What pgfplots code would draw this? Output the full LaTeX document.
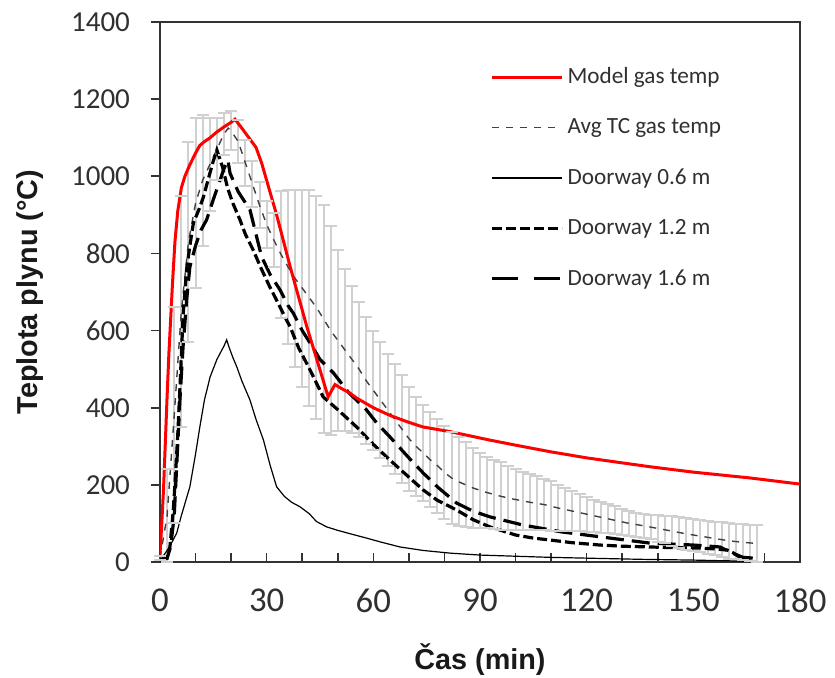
\documentclass[border=0pt]{standalone}
\usepackage{pgfplots}
\usepackage{pgfplotstable}
\pgfplotsset{compat=1.18}
\usepackage{fontspec}
\setmainfont{Carlito}
\newfontfamily\arialfont{Liberation Sans}
\definecolor{ebgray}{HTML}{D0D0D0}
\definecolor{txtgray}{HTML}{303030}

% average TC gas temperature with its error (+/-)
\pgfplotstableread{
t v e
0 10 5
2 120 120
4 380 280
6 650 300
8 830 260
10 930 220
12 990 170
14 1030 120
16 1070 80
18 1110 55
20 1118 50
22 1090 55
24 1035 60
26 980 60
28 925 60
30 875 60
32 835 70
34 798 165
36 765 200
38 735 230
40 710 255
42 685 280
44 660 290
46 630 295
48 600 270
50 575 235
52 550 210
54 525 190
56 500 175
58 470 165
60 445 155
62 420 150
64 395 145
66 370 143
68 345 140
70 320 135
72 300 128
74 283 125
76 265 123
78 250 122
80 232 121
82 218 120
84 208 115
86 200 110
88 192 103
90 186 97
92 180 92
94 175 90
96 170 88
98 166 84
100 162 80
102 158 76
104 155 72
106 152 70
108 149 67
110 145 65
112 140 60
114 136 56
116 132 52
118 128 48
120 124 45
122 120 42
124 116 40
126 112 38
128 108 36
130 104 34
132 100 32
134 97 31
136 94 31
138 91 32
140 87 34
142 84 36
144 80 38
146 77 40
148 73 41
150 70 42
152 67 42
154 64 43
156 61 44
158 58 45
160 55 46
162 53 46
164 51 47
166 49 47
168 48 47
}\tcdata

\begin{document}
\begin{tikzpicture}
\useasboundingbox (-80pt,-57.5pt) rectangle (337.5pt,281pt);
\begin{axis}[
  at={(0,0)}, anchor=south west,
  scale only axis, width=320pt, height=270pt,
  xmin=0, xmax=180, ymin=0, ymax=1400,
  xtick={0,30,...,180}, minor x tick num=2,
  ytick={0,200,...,1400},
  xtick pos=bottom, ytick pos=left,
  xtick align=inside, ytick align=outside,
  major tick length=4.5pt, minor tick length=4.5pt,
  axis line style={black!80, line width=0.8pt},
  every tick/.style={black!80, line width=0.8pt},
  /pgf/number format/assume math mode=true,
  /pgf/number format/1000 sep={},
  yticklabel style={font=\fontsize{14.5}{16}\selectfont, text=txtgray, xshift=-7pt},
  xticklabel style={font=\fontsize{17.4}{19}\selectfont, text=txtgray, yshift=-10pt},
  xlabel={\arialfont\bfseries \v{C}as (min)},
  ylabel={\arialfont\bfseries Teplota plynu (°C)},
  every axis x label/.style={at={(axis description cs:0.5,-0.1815)}, anchor=center, font=\fontsize{14.4}{16}\selectfont, text=black!90},
  every axis y label/.style={at={(axis description cs:-0.203,0.5)}, anchor=center, rotate=90, font=\fontsize{14.4}{16}\selectfont, text=black!90},
  legend image code/.code={\draw[#1] (0pt,0pt) -- (35pt,0pt);},
  legend cell align=left,
  legend style={draw=none, fill=none, at={(axis description cs:0.5156,0.924)}, anchor=north west,
    inner sep=0pt, row sep=12pt, font=\fontsize{11.6}{13}\selectfont, text=txtgray},
]
\addlegendimage{red, line width=1.5pt}
\addlegendentry{Model gas temp}
\addlegendimage{black!75, line width=0.7pt, dash pattern=on 3.5pt off 3.5pt}
\addlegendentry{Avg TC gas temp}
\addlegendimage{black, line width=0.6pt}
\addlegendentry{Doorway 0.6 m}
\addlegendimage{black, line width=1.6pt, dash pattern=on 5pt off 2pt}
\addlegendentry{Doorway 1.2 m}
\addlegendimage{black, line width=1.6pt, dash pattern=on 13pt off 8pt}
\addlegendentry{Doorway 1.6 m}

% error bars of average TC: vertical bars
\addplot[forget plot, draw=none, mark=none,
  error bars/.cd, y dir=both, y explicit,
  error bar style={draw=ebgray, line width=1pt}]
table[x=t, y=v, y error=e] {\tcdata};
% caps
\addplot[forget plot, only marks, mark=-, mark size=3pt, mark options={draw=ebgray, line width=1pt}]
table[x=t, y expr=\thisrow{v}+\thisrow{e}] {\tcdata};
\addplot[forget plot, only marks, mark=-, mark size=3pt, mark options={draw=ebgray, line width=1pt}]
table[x=t, y expr=\thisrow{v}-\thisrow{e}] {\tcdata};

% Doorway 0.6 m
\addplot[forget plot, black, line width=0.6pt] coordinates {
(0,5) (0.5,10) (2,30) (3,45) (4.7,75) (6,120) (8.4,195) (10,280) (11.2,350) (12.5,420)
(14.1,480) (16,525) (16.9,541) (18,560) (18.75,576) (19.5,555) (20.5,530) (21.6,506)
(23,470) (25.3,420) (27,370) (29.1,316) (31,250) (32.8,195) (35,170) (37,155) (39.4,143)
(42,125) (44,105) (46.9,91) (50,82) (54,72) (58.1,62) (62,52) (67.5,39) (74,30) (81.6,23)
(90,18) (100,15) (110,12) (120,10) (135,7) (150,5) (160,3) (165,2)
};

% Avg TC gas temp
\addplot[forget plot, black!75, line width=0.7pt, dash pattern=on 3.5pt off 3.5pt] coordinates {
(0,10) (2,120) (4,380) (6,650) (8,830) (10,930) (12,990) (14,1030) (16,1070) (18,1110)
(19.2,1125) (20,1118) (22,1090) (24,1035) (26,980) (28,925) (30,875) (32,835) (34,798)
(36,765) (38,735) (40,710) (42,685) (44,660) (46,630) (48,600) (50,575) (52,550) (54,525)
(56,500) (58,470) (60,445) (62,420) (64,395) (66,370) (68,345) (70,320) (72,300) (74,283)
(76,265) (78,250) (80,232) (82,218) (84,208) (86,200) (88,192) (90,186) (92,180) (96,170)
(100,162) (104,155) (108,149) (112,140) (116,132) (120,124) (124,116) (128,108) (132,100)
(136,94) (140,87) (144,80) (148,73) (152,67) (156,61) (160,55) (164,51) (168,48)
};

% Doorway 1.2 m
\addplot[forget plot, black, line width=1.6pt, dash pattern=on 5pt off 2pt] coordinates {
(0,5) (1,8) (2,10) (2.8,40) (3.7,130) (4.2,200) (5,330) (5.6,450) (6.5,640) (7.5,760)
(8.4,820) (9.4,879) (11,915) (12.2,946) (13.5,990) (15,1040) (16,1068) (17,1040)
(17.6,1024) (19,970) (20.5,930) (22.5,887) (24,850) (26.2,809) (28.5,760) (30.9,713)
(33,675) (35.6,627) (36.6,610) (39,555) (42.2,498) (45.9,428) (50,395) (55.3,350)
(60,305) (64.7,264) (70,220) (74,187) (78,160) (83.4,135) (88,110) (92.8,91) (100,70)
(105,62) (109.7,57) (116,50) (123.7,44) (130,41) (137.8,39) (145,37) (152,36) (156,34)
(159.5,31) (161,25) (163,13) (166.7,10)
};

% Doorway 1.6 m
\addplot[forget plot, black, line width=1.6pt, dash pattern=on 9pt off 4pt] coordinates {
(0,5) (2,10) (3,40) (4,120) (4.7,250) (5.6,420) (6.5,560) (7.5,680) (8.4,765) (10,820)
(11.5,860) (13.1,887) (15,940) (16.9,990) (18,1020) (19.1,1042) (19.7,1008) (22,960)
(25.3,913) (27,850) (28.6,791) (31,745) (33.8,705) (36,665) (37.5,645) (40,600)
(42.2,568) (45,525) (48.8,490) (53,440) (58.1,394) (61,360) (64.7,324) (70,270)
(74,231) (78,195) (83.4,153) (88,132) (92.8,117) (102,96) (113,78) (126.6,62)
(137.8,49) (150,44) (157.5,39) (161,23) (164,12) (166,10)
};

% Model gas temp
\addplot[forget plot, red, line width=1.5pt] coordinates {
(0,20) (0.5,100) (1,190) (1.5,310) (2,430) (2.5,540) (3,630) (3.5,720) (4.2,830) (5,910)
(6,970) (7,1000) (8.4,1030) (10,1060) (11.2,1080) (12.5,1090) (14.1,1100) (16,1115)
(18,1128) (20,1140) (21.1,1148) (23,1125) (25,1100) (27,1075) (28.6,1034) (32.8,900)
(36.6,766) (41.3,610) (45,498) (47.3,428) (48.3,445) (49.2,460) (51,450) (53.4,438)
(55.3,425) (60,400) (64.7,380) (70,362) (74,350) (81.6,338) (92.8,316) (100,303)
(109.7,286) (120,270) (130,257) (137.8,247) (150,233) (165.9,218) (180,202)
};
\end{axis}
\end{tikzpicture}
\end{document}
